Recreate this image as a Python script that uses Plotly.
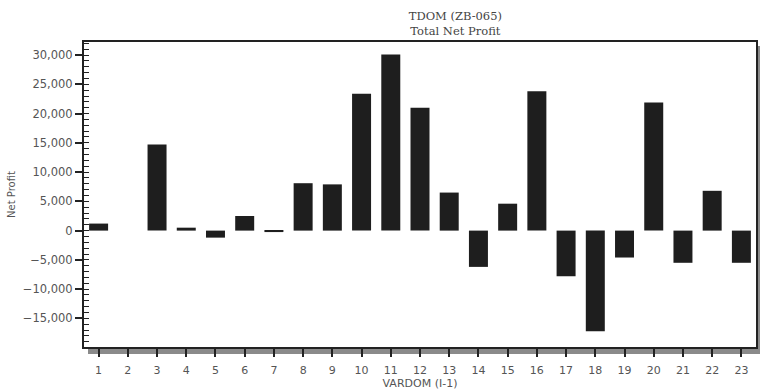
import plotly.graph_objects as go

categories = list(range(1, 24))
net_profit = [1200, 0, 14700, 500, -1200, 2500, -250, 8100, 7900, 23400, 30100, 21000,
              6500, -6200, 4600, 23800, -7800, -17200, -4600, 21900, -5500, 6800, -5500]
y_tickvals = [-15000, -10000, -5000, 0, 5000, 10000, 15000, 20000, 25000, 30000]
y_ticktext = ["\u221215,000", "\u221210,000", "\u22125,000", "0", "5,000", "10,000",
              "15,000", "20,000", "25,000", "30,000"]

W, H = 760, 392
ML, MR, MT, MB = 84, 4, 42, 45
pw, ph = W - ML - MR, H - MT - MB

fig = go.Figure()
fig.add_trace(go.Bar(x=categories, y=net_profit, width=0.65,
                     marker=dict(color="#1e1e1e", line=dict(width=0)),
                     showlegend=False, hoverinfo="x+y"))

xr = [0.5, 23.5]
fig.update_layout(
    width=W, height=H,
    margin=dict(l=ML, r=MR, t=MT, b=MB, pad=0, autoexpand=False),
    paper_bgcolor="white", plot_bgcolor="white",
    title=dict(text="TDOM (ZB-065)<br>Total Net Profit", x=(ML + pw / 2) / W, xanchor="center",
               xref="paper", y=1 - 20 / H, yanchor="middle",
               font=dict(family="DejaVu Serif", size=11.5, color="#444")),
    xaxis=dict(range=xr, tickmode="array", tickvals=categories,
               ticktext=[str(c) for c in categories], automargin=False,
               ticks="outside", ticklen=8, tickwidth=1.5, tickcolor="#222",
               ticklabelstandoff=4,
               showline=True, linecolor="#222", linewidth=2, mirror=True,
               showgrid=False, zeroline=False,
               tickfont=dict(family="DejaVu Sans", size=11, color="#555"),
               title=dict(text="VARDOM (I-1)", standoff=3,
                          font=dict(family="DejaVu Sans", size=11, color="#555"))),
    xaxis2=dict(range=xr, overlaying="x", side="bottom", anchor="y", automargin=False,
                tickmode="array", tickvals=categories, showticklabels=False,
                ticks="inside", ticklen=8, tickwidth=1.5, tickcolor="#222",
                showgrid=False, zeroline=False, showline=False),
    yaxis=dict(range=[-19890, 32230], tickmode="array", tickvals=y_tickvals, ticktext=y_ticktext,
               automargin=False,
               ticks="outside", ticklen=7, tickwidth=1.5, tickcolor="#222",
               minor=dict(ticks="inside", dtick=1000, tick0=0, ticklen=5, tickwidth=1.2,
                          tickcolor="#222", showgrid=False),
               showline=True, linecolor="#222", linewidth=2, mirror=True,
               showgrid=False, zeroline=False,
               tickfont=dict(family="DejaVu Sans", size=11.5, color="#555"),
               title=dict(text="Net Profit", standoff=5,
                          font=dict(family="DejaVu Sans", size=10, color="#555"))),
    shapes=[
        dict(type="line", xref="paper", yref="paper", layer="below",
             x0=4 / pw, x1=1 + 4 / pw, y0=-4 / ph, y1=-4 / ph,
             line=dict(color="#8a8a8a", width=6)),
        dict(type="line", xref="paper", yref="paper", layer="below",
             x0=1 + 2.5 / pw, x1=1 + 2.5 / pw, y0=-7 / ph, y1=1 - 4 / ph,
             line=dict(color="#8a8a8a", width=3)),
    ],
)

fig.write_html("out.html", config={"displayModeBar": False},
               post_script="document.body.style.margin='0';document.body.style.overflow='hidden';")
